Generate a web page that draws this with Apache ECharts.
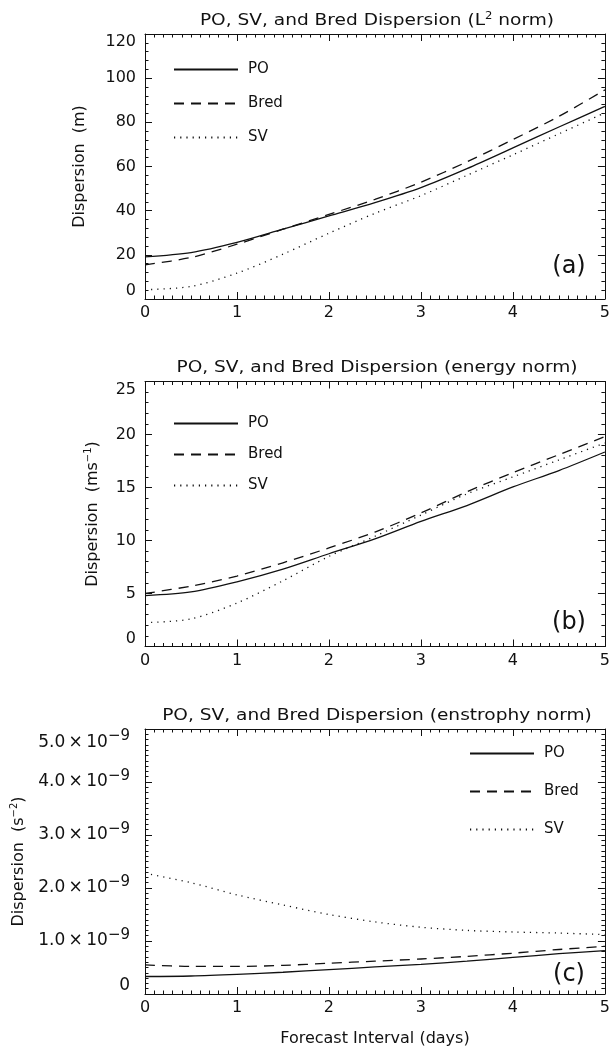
<!DOCTYPE html>
<html>
<head>
<meta charset="utf-8">
<script src="https://cdn.jsdelivr.net/npm/echarts@6/dist/echarts.min.js"></script>
<style>
  html, body { margin: 0; padding: 0; background: #fff; }
  #chart { width: 613px; height: 1049px; }
</style>
</head>
<body>
<div id="chart"></div>
<script>
// Forecast interval (days)
const days = [0, 0.5, 1, 1.5, 2, 2.5, 3, 3.5, 4, 4.5, 5];
const xTicks = ['0', '1', '2', '3', '4', '5'];

// (a) L2 norm dispersion (m)
const l2PO   = [19.1, 21.0, 25.6, 31.6, 37.6, 43.6, 50.4, 59.0, 68.4, 77.9, 87.2];
const l2Bred = [15.5, 18.8, 24.8, 31.6, 38.3, 45.1, 52.9, 62.1, 72.2, 82.7, 94.7];
const l2SV   = [4.2, 5.7, 11.7, 20.3, 29.8, 38.8, 46.8, 56.0, 65.3, 74.8, 84.3];

// (b) energy norm dispersion (m s^-1)
const enPO   = [4.8, 5.15, 6.1, 7.3, 8.75, 10.15, 11.8, 13.3, 15.05, 16.6, 18.35];
const enBred = [5.0, 5.7, 6.65, 7.9, 9.3, 10.8, 12.6, 14.6, 16.4, 18.1, 19.8];
const enSV   = [2.25, 2.6, 4.1, 6.2, 8.5, 10.4, 12.4, 14.4, 16.0, 17.6, 19.2];

// (c) enstrophy norm dispersion (s^-2)
const ensPO   = [0.33e-9, 0.34e-9, 0.37e-9, 0.41e-9, 0.46e-9, 0.51e-9, 0.56e-9, 0.62e-9, 0.69e-9, 0.76e-9, 0.82e-9];
const ensBred = [0.55e-9, 0.52e-9, 0.52e-9, 0.54e-9, 0.58e-9, 0.62e-9, 0.66e-9, 0.71e-9, 0.77e-9, 0.84e-9, 0.90e-9];
const ensSV   = [2.28e-9, 2.10e-9, 1.87e-9, 1.68e-9, 1.50e-9, 1.36e-9, 1.26e-9, 1.20e-9, 1.17e-9, 1.15e-9, 1.12e-9];

// y-axis tick labels
const l2Ticks  = ['0', '20', '40', '60', '80', '100', '120'];
const enTicks  = ['0', '5', '10', '15', '20', '25'];
const ensTicks = ['0', '1.0', '2.0', '3.0', '4.0', '5.0'];

const seriesNames = ['PO', 'Bred', 'SV'];

const FONT = 'DejaVu Sans';
const INK = '#111';

const styles = {
  PO:   { color: INK, width: 1.3, type: 'solid' },
  Bred: { color: INK, width: 1.3, type: [10, 7] },
  SV:   { color: INK, width: 1.3, type: [1.2, 5] }
};

const panels = [
  { top: 34,    max: 120,  interval: 20,   minor: 5,  data: [l2PO, l2Bred, l2SV],
    ticks: l2Ticks, exp: false, labelSize: 16, labelMargin: 9,
    title: 'PO, SV, and Bred Dispersion (L{sup|2} norm)',
    yname: 'Dispersion  (m)', nameGap: 57,
    legend: { left: 173, top: 62, gap: 19 }, tag: '(a)', tagY: 267 },
  { top: 381.5, max: 25,   interval: 5,    minor: 5,  data: [enPO, enBred, enSV],
    ticks: enTicks, exp: false, labelSize: 16, labelMargin: 9,
    title: 'PO, SV, and Bred Dispersion (energy norm)',
    yname: 'Dispersion  (ms{sup|−1})', nameGap: 43,
    legend: { left: 173, top: 416, gap: 16 }, tag: '(b)', tagY: 623 },
  { top: 729,   max: 5e-9, interval: 1e-9, minor: 10, data: [ensPO, ensBred, ensSV],
    ticks: ensTicks, exp: true, labelSize: 17, labelMargin: 15,
    title: 'PO, SV, and Bred Dispersion (enstrophy norm)',
    yname: 'Dispersion  (s{sup|−2})', nameGap: 98,
    legend: { left: 469, top: 746, gap: 23 }, tag: '(c)', tagY: 975 }
];

const GRID_LEFT = 145, GRID_W = 464, GRID_H = 265;

const grid = [], xAxis = [], yAxis = [], series = [], legend = [], graphic = [];

const axisLine = { show: true, onZero: false, lineStyle: { color: INK, width: 1 } };
const labelStyle = { fontFamily: FONT, fontSize: 16, color: INK };
const supRich = {
  sup: { fontFamily: FONT, fontSize: 10, color: INK, padding: [0, 0, 9, 0] }
};
const expRich = {
  sup: { fontFamily: FONT, fontSize: 15, color: INK, padding: [0, 0, 12, 0] }
};

panels.forEach((p, i) => {
  grid.push({ left: GRID_LEFT, top: p.top, width: GRID_W, height: GRID_H });

  const xBase = {
    type: 'value', gridIndex: i, min: 0, max: 5, interval: 1,
    axisLine, splitLine: { show: false },
    axisTick: { show: true, inside: true, length: 7, lineStyle: { color: INK } },
    minorTick: { show: true, splitNumber: 10, length: 3.5, lineStyle: { color: INK } }
  };
  xAxis.push(Object.assign({}, xBase, {
    position: 'bottom',
    axisLabel: Object.assign({ margin: 6, formatter: v => xTicks[Math.round(v)] }, labelStyle),
    name: i === 2 ? 'Forecast Interval (days)' : '',
    nameLocation: 'middle', nameGap: 37,
    nameTextStyle: { fontFamily: FONT, fontSize: 16, color: INK }
  }));
  xAxis.push(Object.assign({}, xBase, { position: 'top', axisLabel: { show: false } }));

  const yBase = {
    type: 'value', gridIndex: i, min: 0, max: p.max, interval: p.interval,
    axisLine, splitLine: { show: false },
    axisTick: { show: true, inside: true, length: 7, lineStyle: { color: INK } },
    minorTick: { show: true, splitNumber: p.minor, length: 3.5, lineStyle: { color: INK } }
  };
  yAxis.push(Object.assign({}, yBase, {
    position: 'left',
    axisLabel: Object.assign({}, labelStyle, {
      fontSize: p.labelSize,
      margin: p.labelMargin,
      verticalAlignMinLabel: 'bottom',
      verticalAlignMaxLabel: 'top',
      formatter: v => {
        const t = p.ticks[Math.round(v / p.interval)];
        if (!p.exp || t === '0') return t;
        return t + '\u2009×\u200910{sup|−9}';
      },
      rich: expRich
    }),
    name: p.yname, nameLocation: 'middle', nameGap: p.nameGap,
    nameTextStyle: { fontFamily: FONT, fontSize: 16, color: INK, rich: supRich }
  }));
  yAxis.push(Object.assign({}, yBase, { position: 'right', axisLabel: { show: false } }));

  seriesNames.forEach((name, k) => {
    series.push({
      name, type: 'line', xAxisIndex: 2 * i, yAxisIndex: 2 * i,
      data: days.map((d, j) => [d, p.data[k][j]]),
      smooth: 0.3, symbol: 'none',
      itemStyle: { color: INK },
      lineStyle: styles[name], silent: true, animation: false
    });
  });

  // panel title, drawn slightly widened like a stroke plotting font
  graphic.push({
    type: 'text', x: GRID_LEFT + GRID_W / 2, y: p.top - 13.5, scaleX: 1.16,
    style: {
      text: p.title, fontFamily: FONT, fontSize: 16, fill: INK,
      textAlign: 'center', textVerticalAlign: 'middle',
      rich: { sup: { fontFamily: FONT, fontSize: 10, fill: INK, padding: [0, 0, 9, 0] } }
    }
  });

  legend.push({
    orient: 'vertical', left: p.legend.left, top: p.legend.top, padding: 0,
    itemWidth: 64, itemHeight: 14, itemGap: p.legend.gap,
    data: seriesNames, selectedMode: false,
    itemStyle: { opacity: 0 },
    textStyle: { fontFamily: FONT, fontSize: 15, color: INK, padding: [0, 0, 0, 5] }
  });

  graphic.push({
    type: 'text', x: 569, y: p.tagY,
    style: { text: p.tag, fontFamily: FONT, fontSize: 24, fill: INK,
             textAlign: 'center', textVerticalAlign: 'middle' }
  });
});

const chart = echarts.init(document.getElementById('chart'), null, { renderer: 'canvas' });
chart.setOption({
  animation: false, backgroundColor: '#fff',
  grid, xAxis, yAxis, series, legend, graphic
});
</script>
</body>
</html>
